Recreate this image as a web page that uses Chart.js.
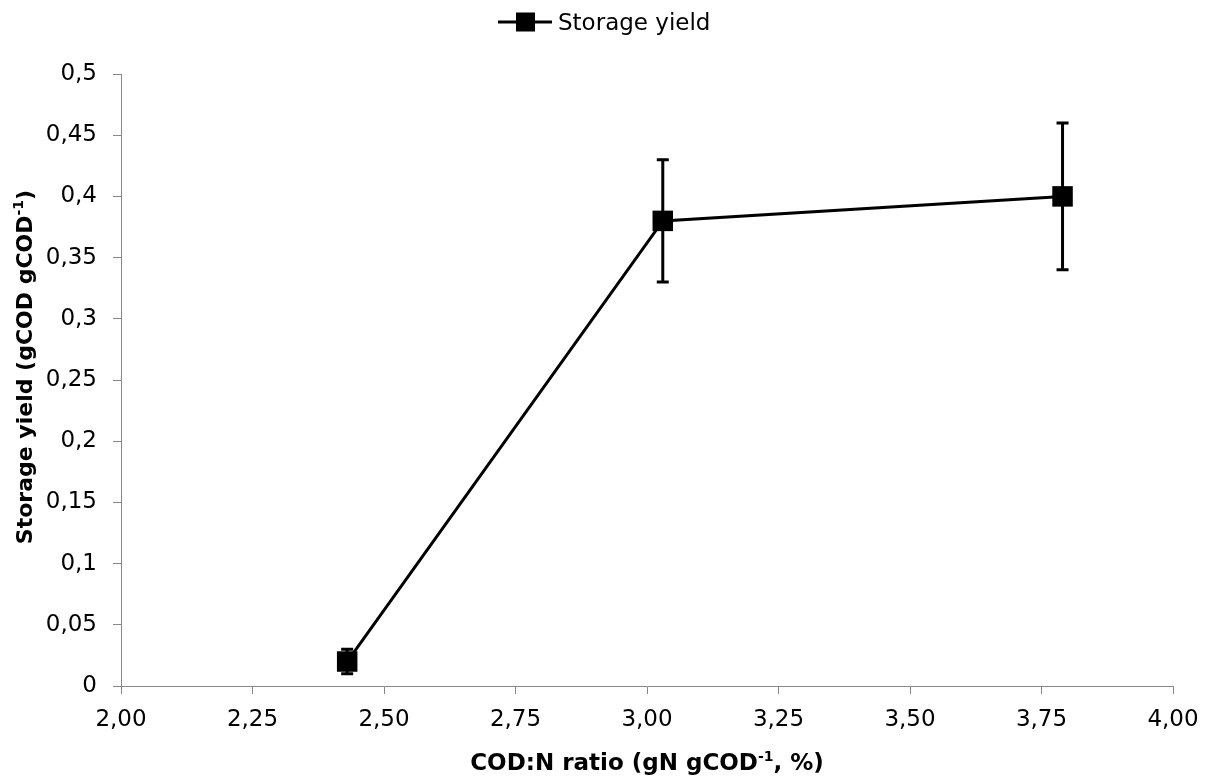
<!DOCTYPE html>
<html>
<head>
<meta charset="utf-8">
<script src="https://cdn.jsdelivr.net/npm/chart.js@4/dist/chart.umd.min.js"></script>
<style>
  html, body { margin: 0; padding: 0; background: #fff; }
  #wrap { width: 1214px; height: 778px; }
</style>
</head>
<body>
<div id="wrap"><canvas id="chart1" width="1214" height="778"></canvas></div>
<script>
// values
var seriesName = 'Storage yield';
var codN = [2.43, 3.03, 3.79];          // x : COD:N ratio
var storageYield = [0.02, 0.38, 0.40];  // y
var yieldErr = [0.01, 0.05, 0.06];      // +/- error bars
var xTicks = [2.00, 2.25, 2.50, 2.75, 3.00, 3.25, 3.50, 3.75, 4.00];
var yTicks = [0, 0.05, 0.1, 0.15, 0.2, 0.25, 0.3, 0.35, 0.4, 0.45, 0.5];

var FONT = 'DejaVu Sans';
var AXIS_GREY = '#898989';

// draws the error bars with the chart scales
var errorBars = {
  id: 'errorBars',
  afterDatasetsDraw: function(chart) {
    var ctx = chart.ctx;
    var xs = chart.scales.x, ys = chart.scales.y;
    ctx.save();
    ctx.strokeStyle = '#000';
    ctx.lineWidth = 3;
    for (var i = 0; i < codN.length; i++) {
      var px = xs.getPixelForValue(codN[i]);
      var top = ys.getPixelForValue(storageYield[i] + yieldErr[i]);
      var bot = ys.getPixelForValue(storageYield[i] - yieldErr[i]);
      ctx.beginPath();
      ctx.moveTo(px, top); ctx.lineTo(px, bot);
      ctx.moveTo(px - 6, top); ctx.lineTo(px + 6, top);
      ctx.moveTo(px - 6, bot); ctx.lineTo(px + 6, bot);
      ctx.stroke();
    }
    ctx.restore();
  }
};

// text with a superscript part, centered on 0
function drawParts(ctx, parts, size) {
  var w = 0;
  parts.forEach(function(p) {
    ctx.font = 'bold ' + (p.sup ? Math.round(size * 0.62) : size) + 'px "' + FONT + '"';
    p.w = ctx.measureText(p.t).width;
    w += p.w;
  });
  var x = -w / 2;
  parts.forEach(function(p) {
    ctx.font = 'bold ' + (p.sup ? Math.round(size * 0.62) : size) + 'px "' + FONT + '"';
    ctx.fillText(p.t, x, p.sup ? -size * 0.4 : 0);
    x += p.w;
  });
}

var titlesAndLegend = {
  id: 'titlesAndLegend',
  afterDraw: function(chart) {
    var ctx = chart.ctx, a = chart.chartArea;
    ctx.save();
    ctx.fillStyle = '#000';
    ctx.textAlign = 'left';
    ctx.textBaseline = 'alphabetic';

    // x axis title
    ctx.save();
    ctx.translate((a.left + a.right) / 2, 770);
    drawParts(ctx, [{t: 'COD:N ratio (gN gCOD'}, {t: '-1', sup: true}, {t: ', %)'}], 23);
    ctx.restore();

    // y axis title
    ctx.save();
    ctx.translate(32, 367);
    ctx.rotate(-Math.PI / 2);
    drawParts(ctx, [{t: 'Storage yield (gCOD gCOD'}, {t: '-1', sup: true}, {t: ')'}], 22);
    ctx.restore();

    // legend
    ctx.strokeStyle = '#000';
    ctx.lineWidth = 3;
    ctx.beginPath();
    ctx.moveTo(498, 22); ctx.lineTo(552, 22);
    ctx.stroke();
    ctx.fillRect(516, 12.5, 19, 19);
    ctx.font = '23px "' + FONT + '"';
    ctx.fillText(chart.data.datasets[0].label, 558, 30);
    ctx.restore();
  }
};

var points = [];
for (var i = 0; i < codN.length; i++) {
  points.push({x: codN[i], y: storageYield[i]});
}

var chart = new Chart(document.getElementById('chart1').getContext('2d'), {
  type: 'line',
  data: {
    datasets: [{
      label: seriesName,
      data: points,
      borderColor: '#000',
      borderWidth: 3,
      tension: 0,
      pointStyle: 'rect',
      pointRadius: 14.5,
      pointHoverRadius: 14.5,
      pointBackgroundColor: '#000',
      pointBorderColor: '#000',
      pointBorderWidth: 0
    }]
  },
  options: {
    responsive: false,
    animation: false,
    layout: { padding: { top: 74, right: 41, bottom: 0, left: 0 } },
    plugins: {
      legend: { display: false },
      tooltip: { enabled: false }
    },
    scales: {
      x: {
        type: 'linear',
        min: 2,
        max: 4,
        afterBuildTicks: function(s) { s.ticks = xTicks.map(function(v) { return {value: v}; }); },
        afterFit: function(s) { s.height = 92; },
        ticks: {
          autoSkip: false,
          maxRotation: 0,
          padding: 12,
          color: '#000',
          font: { family: FONT, size: 23 },
          callback: function(v) { return v.toFixed(2).replace('.', ','); }
        },
        grid: { drawOnChartArea: false, drawTicks: true, tickLength: 8, color: AXIS_GREY, lineWidth: 1 },
        border: { color: AXIS_GREY, width: 1 }
      },
      y: {
        type: 'linear',
        min: 0,
        max: 0.5,
        afterBuildTicks: function(s) { s.ticks = yTicks.map(function(v) { return {value: v}; }); },
        afterFit: function(s) { s.width = 121; },
        ticks: {
          autoSkip: false,
          padding: 16,
          color: '#000',
          font: { family: FONT, size: 23 },
          callback: function(v) { return String(Math.round(v * 100) / 100).replace('.', ','); }
        },
        grid: { drawOnChartArea: false, drawTicks: true, tickLength: 8, color: AXIS_GREY, lineWidth: 1 },
        border: { color: AXIS_GREY, width: 1 }
      }
    }
  },
  plugins: [errorBars, titlesAndLegend]
});
</script>
</body>
</html>
